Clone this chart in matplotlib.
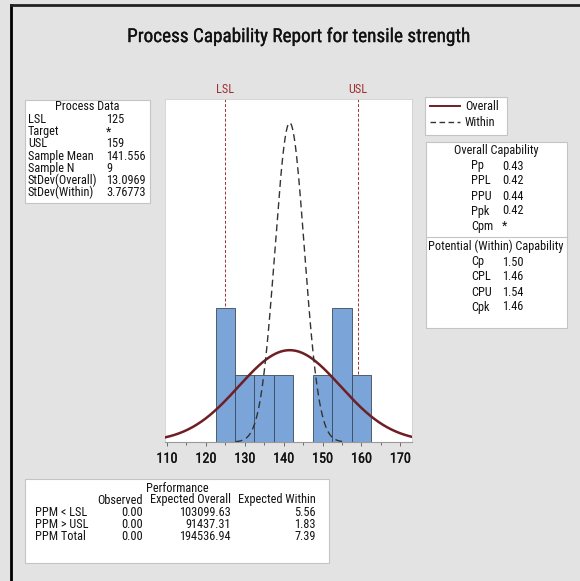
import matplotlib
matplotlib.use("Agg")
import matplotlib.pyplot as plt
import matplotlib.patheffects as pe
import numpy as np
from matplotlib import font_manager
from matplotlib.patches import Rectangle
from matplotlib.lines import Line2D

# prefer a narrow face (the report font is narrow), else Lato
prefs = ["LiberationSansNarrow-Regular", "RobotoCondensed-Regular", "NotoSans-Condensed.",
         "NotoSans-CondensedRegular", "OpenSans_Condensed-Regular", "OpenSansCondensed-Regular",
         "DejaVuSansCondensed.ttf", "Lato-Regular"]
files = [f.fname for f in font_manager.fontManager.ttflist]
font_file = None
for p in prefs:
    hits = [f for f in files if p in f]
    if hits:
        font_file = hits[0]
        break
if font_file:
    FP = font_manager.FontProperties(fname=font_file)
else:
    FP = font_manager.FontProperties(family="Lato")

# process data
lsl = 125
usl = 159
mean = 141.556
n = 9
sd_overall = 13.0969
sd_within = 3.76773

bin_centers = [125, 130, 135, 140, 145, 150, 155, 160]
counts = [2, 1, 1, 1, 0, 1, 2, 1]
bin_width = 5

process_labels = ["LSL", "Target", "USL", "Sample Mean", "Sample N",
                  "StDev(Overall)", "StDev(Within)"]
process_values = ["125", "*", "159", "141.556", "9", "13.0969", "3.76773"]

overall_labels = ["Pp", "PPL", "PPU", "Ppk", "Cpm"]
overall_values = ["0.43", "0.42", "0.44", "0.42", "*"]
within_labels = ["Cp", "CPL", "CPU", "Cpk"]
within_values = ["1.50", "1.46", "1.54", "1.46"]

perf_rows = ["PPM < LSL", "PPM > USL", "PPM Total"]
perf_cols = ["Observed", "Expected Overall", "Expected Within"]
perf_observed = ["0.00", "0.00", "0.00"]
perf_overall = ["103099.63", "91437.31", "194536.94"]
perf_within = ["5.56", "1.83", "7.39"]

W, H = 580, 581
fig = plt.figure(figsize=(W / 100, H / 100), dpi=100, facecolor="#e3e3e3")
renderer = fig.canvas.get_renderer()
semibold = [pe.withStroke(linewidth=0.2, foreground="#151515")]


def fit_size(s, target_px, max_size):
    t = fig.text(0, 0, s, fontproperties=FP, fontsize=10)
    w = t.get_window_extent(renderer).width
    t.remove()
    return min(10 * target_px / w, max_size)


title_size = fit_size("Process Capability Report for tensile strength", 340, 14)
body_size = fit_size("Expected Overall", 80, 9.5)
tick_size = fit_size("110", 21, 12)


def fx(px):
    return px / W


def fy(py):
    return 1 - py / H


def box(x0, y0, x1, y1):
    fig.add_artist(Rectangle((fx(x0), fy(y1)), fx(x1) - fx(x0), fy(y0) - fy(y1),
                             transform=fig.transFigure, facecolor="white",
                             edgecolor="#c4c4c4", linewidth=0.8))


def txt(x, y, s, ha="left", size=None, **kw):
    fig.text(fx(x), fy(y), s, ha=ha, va="center", fontproperties=FP,
             fontsize=size or body_size, color="#111111", **kw)


# black border on left and top
fig.add_artist(Line2D([fx(11), fx(11)], [fy(5), 0], transform=fig.transFigure,
                      color="black", linewidth=2))
fig.add_artist(Line2D([fx(11), 1], [fy(5), fy(5)], transform=fig.transFigure,
                      color="#222222", linewidth=2))

txt(298, 37, "Process Capability Report for tensile strength", ha="center",
    size=title_size, path_effects=semibold)

# histogram axes
ax = fig.add_axes([fx(165), fy(442), fx(412) - fx(165), fy(99) - fy(442)])
ax.bar(bin_centers, counts, width=bin_width, color="#7ba4d8", edgecolor="#3a4a5a",
       linewidth=0.6, zorder=2)
xs = np.linspace(109.5, 173, 400)
pdf_o = n * bin_width * np.exp(-0.5 * ((xs - mean) / sd_overall) ** 2) / (sd_overall * np.sqrt(2 * np.pi))
pdf_w = n * bin_width * np.exp(-0.5 * ((xs - mean) / sd_within) ** 2) / (sd_within * np.sqrt(2 * np.pi))
ax.plot(xs, pdf_o, color="#6e1f25", linewidth=1.8, zorder=3)
mask = (xs > 127.5) & (xs < 156)
ax.plot(xs[mask], pdf_w[mask], color="#333333", linestyle=(0, (5, 3)), linewidth=1.0, zorder=3)
for v, name in [(lsl, "LSL"), (usl, "USL")]:
    ax.axvline(v, color="#a03030", linestyle=(0, (3, 2)), linewidth=0.7, zorder=1)
    ax.text(v, 5.26, name, ha="center", va="center", color="#a03030",
            fontproperties=FP, fontsize=body_size)
ax.set_xlim(109.5, 173)
ax.set_ylim(0, 5.12)
ax.set_yticks([])
ax.set_xticks(np.arange(110, 171, 10))
ax.set_xticks(np.arange(115, 171, 10), minor=True)
ax.tick_params(axis="x", length=3, width=0.6, color="#555555", pad=4, labelcolor="#111111")
ax.tick_params(axis="x", which="minor", length=2, width=0.6, color="#555555")
for lab in ax.get_xticklabels():
    lab.set_fontproperties(FP)
    lab.set_fontsize(tick_size)
    lab.set_path_effects(semibold)
for side in ["top", "right", "left"]:
    ax.spines[side].set_color("#d0d0d0")
    ax.spines[side].set_linewidth(0.6)
ax.spines["bottom"].set_color("#999999")

# process data box
box(25, 100, 150, 203)
txt(87, 107, "Process Data", ha="center")
for i, (lab, val) in enumerate(zip(process_labels, process_values)):
    y = 119.5 + i * 12.2
    txt(28, y, lab)
    txt(106, y, val)

# legend box
box(425, 97, 507, 135)
fig.add_artist(Line2D([fx(430), fx(460)], [fy(106), fy(106)], transform=fig.transFigure,
                      color="#6e1f25", linewidth=1.4))
fig.add_artist(Line2D([fx(430), fx(460)], [fy(122), fy(122)], transform=fig.transFigure,
                      color="#333333", linewidth=1.0, linestyle=(0, (4, 2.5))))
txt(465, 106, "Overall")
txt(465, 122, "Within")

# capability box
box(426, 142, 567, 328)
fig.add_artist(Line2D([fx(426), fx(567)], [fy(237), fy(237)], transform=fig.transFigure,
                      color="#c4c4c4", linewidth=0.8))
txt(496, 151, "Overall Capability", ha="center")
for i, (lab, val) in enumerate(zip(overall_labels, overall_values)):
    y = 166 + i * 15
    txt(471, y, lab)
    txt(502, y, val)
txt(496, 246, "Potential (Within) Capability", ha="center")
for i, (lab, val) in enumerate(zip(within_labels, within_values)):
    y = 262 + i * 15
    txt(471, y, lab)
    txt(502, y, val)

# performance box
box(25, 479, 329, 563)
txt(177, 488, "Performance", ha="center")
col_x = [143, 231, 316]
for cx, c in zip(col_x, perf_cols):
    txt(cx, 500, c, ha="right")
for i, lab in enumerate(perf_rows):
    y = 512 + i * 12.5
    txt(35, y, lab)
    txt(col_x[0], y, perf_observed[i], ha="right")
    txt(col_x[1], y, perf_overall[i], ha="right")
    txt(col_x[2], y, perf_within[i], ha="right")

fig.savefig("out.png", dpi=100, facecolor=fig.get_facecolor())
